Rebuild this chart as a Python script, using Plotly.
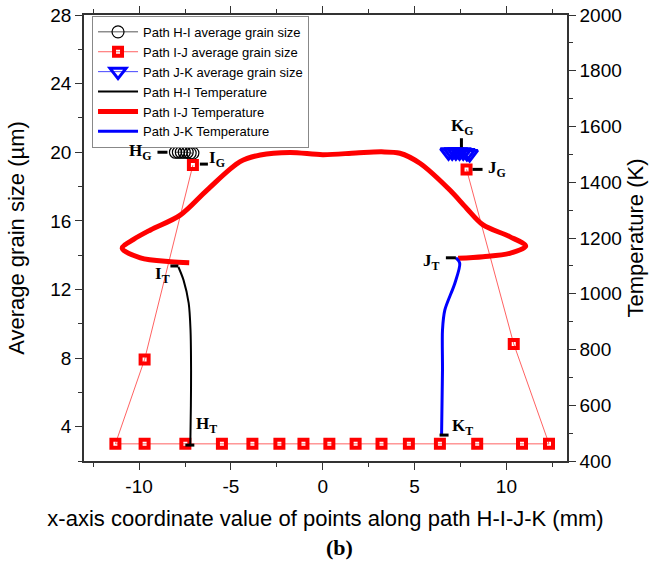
import plotly.graph_objects as go

# ---- data ----
# Path H-I average grain size (left axis, µm)
hi_grain_x = [-8.02, -7.86, -7.70, -7.54, -7.38, -7.22, -7.07]
hi_grain_y = [20.0, 20.0, 20.0, 20.0, 20.0, 19.95, 19.95]

# Path I-J average grain size
ij_grain_x = [-7.07, -9.70, -11.29, -9.70, -7.48, -5.49, -3.83, -2.36, -1.05, 0.36,
              1.79, 3.20, 4.69, 6.38, 8.41, 10.85, 12.32, 10.40, 7.83]
ij_grain_y = [19.25, 7.92, 3.0, 3.0, 3.0, 3.0, 3.0, 3.0, 3.0, 3.0,
              3.0, 3.0, 3.0, 3.0, 3.0, 3.0, 3.0, 8.82, 19.0]

# Path J-K average grain size
jk_grain_x = [6.85, 7.05, 7.25, 7.45, 7.65, 7.85, 8.00]
jk_grain_y = [20.0, 20.0, 20.0, 20.0, 20.0, 19.95, 19.9]

# Path H-I temperature (right axis, K)
hi_temp_x = [-7.21, -7.18, -7.17, -7.20, -7.30, -7.58, -7.86]
hi_temp_T = [457, 600, 726, 870, 966, 1049, 1096]

# Path I-J temperature
ij_temp_x = [-7.27, -8.30, -9.93, -10.92, -10.3, -9.38, -7.76, -6.30, -4.50, -3.40,
             -1.78, 0.0, 1.80, 3.20, 4.20, 5.29, 6.92, 7.83, 8.73, 10.18,
             11.05, 10.18, 8.73, 7.37]
ij_temp_T = [1111, 1115, 1129, 1163, 1195, 1229, 1282, 1372, 1474, 1498,
             1507, 1499, 1505, 1509, 1504, 1468, 1372, 1307, 1247, 1205,
             1171, 1145, 1133, 1127]

# Path J-K temperature
jk_temp_x = [7.25, 7.46, 7.19, 6.65, 6.52, 6.52, 6.47]
jk_temp_T = [1129, 1109, 1037, 942, 870, 726, 493]

# tick labels
x_tick_vals = [-10, -5, 0, 5, 10]
x_tick_text = ["-10", "-5", "0", "5", "10"]

SANS = "Liberation Sans, Arial, sans-serif"
SERIF = "Liberation Serif, Times New Roman, serif"

fig = go.Figure()

fig.add_trace(go.Scatter(
    x=hi_grain_x, y=hi_grain_y, mode="lines+markers", name="Path H-I average grain size",
    line=dict(color="#555555", width=1),
    marker=dict(symbol="circle-open", size=12, color="black", line=dict(width=1.2, color="black")),
    yaxis="y"))
fig.add_trace(go.Scatter(
    x=ij_grain_x, y=ij_grain_y, mode="lines+markers", name="Path I-J average grain size",
    line=dict(color="rgba(255,70,70,0.85)", width=1),
    marker=dict(symbol="square-open", size=8, color="#ff0000", line=dict(width=4, color="#ff0000")),
    yaxis="y"))
fig.add_trace(go.Scatter(
    x=jk_grain_x, y=jk_grain_y, mode="lines+markers", name="Path J-K average grain size",
    line=dict(color="#4444ff", width=1),
    marker=dict(symbol="triangle-down-open", size=14, color="#0000ff", line=dict(width=3, color="#0000ff")),
    yaxis="y"))
fig.add_trace(go.Scatter(
    x=hi_temp_x, y=hi_temp_T, mode="lines", name="Path H-I Temperature",
    line=dict(color="black", width=2, shape="spline", smoothing=0.8), yaxis="y2"))
fig.add_trace(go.Scatter(
    x=ij_temp_x, y=ij_temp_T, mode="lines", name="Path I-J Temperature",
    line=dict(color="#ff0000", width=5, shape="spline", smoothing=0.9), yaxis="y2"))
fig.add_trace(go.Scatter(
    x=jk_temp_x, y=jk_temp_T, mode="lines", name="Path J-K Temperature",
    line=dict(color="#0000ff", width=3, shape="spline", smoothing=0.8), yaxis="y2"))

annotations = []
shapes = []

def label(text, x, y, yref, dx, dy):
    annotations.append(dict(
        x=x, y=y, xref="x", yref=yref, text="<b>" + text + "</b>", showarrow=False,
        xshift=dx, yshift=-dy, font=dict(family=SERIF, size=17, color="black")))

def pointer(x, y, yref, x0, y0, x1, y1):
    # short pointer stroke, offsets in pixels (y downward) from a data anchor
    shapes.append(dict(
        type="line", xref="x", yref=yref,
        xsizemode="pixel", ysizemode="pixel", xanchor=x, yanchor=y,
        x0=x0, x1=x1, y0=-y0, y1=-y1,
        line=dict(color="black", width=3)))

kx = sum(jk_grain_x) / len(jk_grain_x)
ky = max(jk_grain_y)

label("H<sub>G</sub>", hi_grain_x[0], hi_grain_y[0], "y", -35, 0)
pointer(hi_grain_x[0], hi_grain_y[0], "y", -18, 0, -8, 0)
label("I<sub>G</sub>", ij_grain_x[0], ij_grain_y[0], "y", 24, -6)
pointer(ij_grain_x[0], ij_grain_y[0], "y", 7, -1, 15, -1)
label("I<sub>T</sub>", hi_temp_x[-1], hi_temp_T[-1], "y2", -16, 8)
pointer(hi_temp_x[-1], hi_temp_T[-1], "y2", -8, -1, 0, -1)
label("H<sub>T</sub>", hi_temp_x[0], hi_temp_T[0], "y2", 16, -20)
pointer(hi_temp_x[0], hi_temp_T[0], "y2", -5, 0, 4, 0)
label("K<sub>G</sub>", kx, ky, "y", 3, -25)
pointer(kx, ky, "y", 2, -14, 2, -5)
label("J<sub>G</sub>", ij_grain_x[-1], ij_grain_y[-1], "y", 30, 0)
pointer(ij_grain_x[-1], ij_grain_y[-1], "y", 6, 0, 16, 0)
label("J<sub>T</sub>", jk_temp_x[0], jk_temp_T[0], "y2", -24, 4)
pointer(jk_temp_x[0], jk_temp_T[0], "y2", -10, 0, 0, 0)
label("K<sub>T</sub>", jk_temp_x[-1], jk_temp_T[-1], "y2", 21, -8)
pointer(jk_temp_x[-1], jk_temp_T[-1], "y2", -2, 0, 7, 0)

annotations.append(dict(
    x=0.53, y=-0.195, xref="paper", yref="paper", text="<b>(b)</b>", showarrow=False,
    xanchor="center", yanchor="middle",
    font=dict(family=SERIF, size=22, color="black")))

axis_common = dict(
    showgrid=False, zeroline=False, showline=True, linecolor="#333333", linewidth=1.5,
    ticks="outside", ticklen=7, tickwidth=1.3, tickcolor="#333333",
    tickfont=dict(family=SANS, size=19, color="black"),
)

fig.update_layout(
    width=654, height=575,
    margin=dict(l=84, r=87, t=15, b=114, autoexpand=False),
    paper_bgcolor="white", plot_bgcolor="white",
    font=dict(family=SANS, color="black"),
    showlegend=True,
    legend=dict(
        x=0.0166, y=0.998, xanchor="left", yanchor="top",
        bgcolor="white", bordercolor="#888888", borderwidth=1,
        font=dict(family=SANS, size=13, color="black"),
        tracegroupgap=0, itemwidth=40),
    xaxis=dict(
        **axis_common, range=[-13.0, 13.3], tickmode="array",
        tickvals=x_tick_vals, ticktext=x_tick_text, mirror="ticks",
        minor=dict(dtick=2.5, tick0=0, ticklen=4, tickwidth=1.2, tickcolor="#333333", ticks="outside"),
        title=dict(text="x-axis coordinate value of points along path H-I-J-K (mm)",
                   font=dict(family=SANS, size=22, color="black"), standoff=15),
    ),
    yaxis=dict(
        **axis_common, range=[2, 28], dtick=4, tick0=0,
        minor=dict(dtick=2, ticklen=4, tickwidth=1.2, tickcolor="#333333", ticks="outside"),
        title=dict(text="Average grain size (µm)",
                   font=dict(family=SANS, size=22, color="black"), standoff=20),
    ),
    yaxis2=dict(
        **axis_common, range=[400, 2000], dtick=200, tick0=0, overlaying="y", side="right",
        minor=dict(dtick=100, ticklen=4, tickwidth=1.2, tickcolor="#333333", ticks="outside"),
        title=dict(text="Temperature (K)",
                   font=dict(family=SANS, size=22, color="black"), standoff=7),
    ),
    annotations=annotations,
    shapes=shapes,
)

fig.write_html("out.html")
